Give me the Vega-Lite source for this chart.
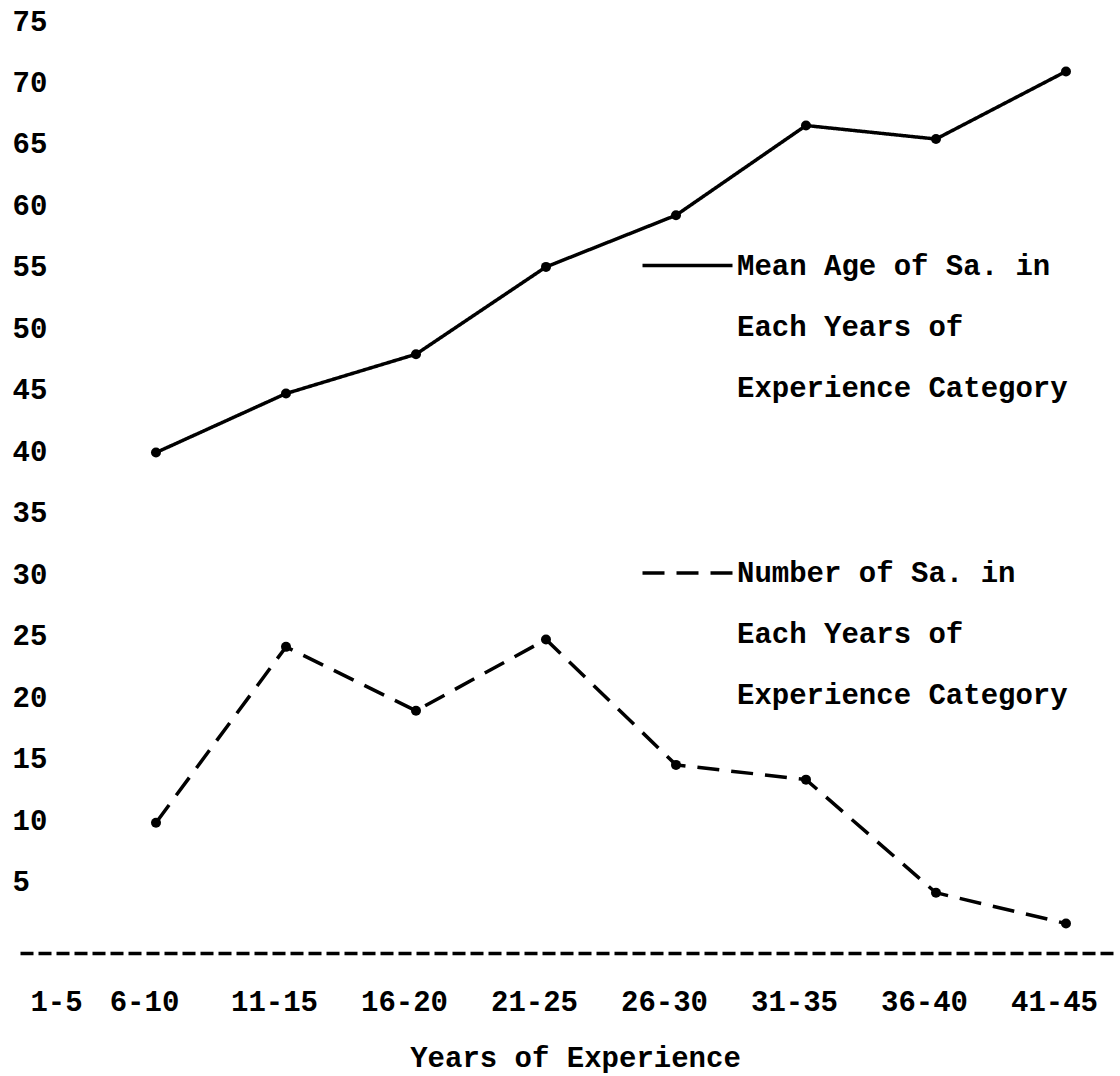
{
  "$schema": "https://vega.github.io/schema/vega-lite/v6.json",
  "width": 1098,
  "height": 932,
  "autosize": {"type": "none"},
  "padding": {"left": 20, "top": 21, "right": 2, "bottom": 123},
  "background": "white",
  "config": {"view": {"stroke": null}, "font": "Liberation Mono"},
  "data": {
    "values": [
      {"experience": "6-10", "series": "Mean Age", "value": 39.9},
      {"experience": "11-15", "series": "Mean Age", "value": 44.7},
      {"experience": "16-20", "series": "Mean Age", "value": 47.9},
      {"experience": "21-25", "series": "Mean Age", "value": 55.0},
      {"experience": "26-30", "series": "Mean Age", "value": 59.2},
      {"experience": "31-35", "series": "Mean Age", "value": 66.5},
      {"experience": "36-40", "series": "Mean Age", "value": 65.4},
      {"experience": "41-45", "series": "Mean Age", "value": 70.9},
      {"experience": "6-10", "series": "Number", "value": 9.8},
      {"experience": "11-15", "series": "Number", "value": 24.1},
      {"experience": "16-20", "series": "Number", "value": 18.9},
      {"experience": "21-25", "series": "Number", "value": 24.7},
      {"experience": "26-30", "series": "Number", "value": 14.5},
      {"experience": "31-35", "series": "Number", "value": 13.3},
      {"experience": "36-40", "series": "Number", "value": 4.1},
      {"experience": "41-45", "series": "Number", "value": 1.6}
    ]
  },
  "encoding": {
    "x": {
      "field": "experience",
      "type": "ordinal",
      "scale": {
        "type": "point",
        "domain": ["1-5", "6-10", "11-15", "16-20", "21-25", "26-30", "31-35", "36-40", "41-45"],
        "padding": 0.2231,
        "align": 0.1034
      },
      "axis": {
        "title": "Years of Experience",
        "labelAngle": 0,
        "ticks": false,
        "tickSize": 0,
        "grid": false,
        "domainColor": "black",
        "domainWidth": 3.5,
        "domainDash": [13, 5],
        "labelFont": "Liberation Mono",
        "labelFontSize": 29,
        "labelFontWeight": "bold",
        "labelColor": "black",
        "labelBaseline": "middle",
        "labelPadding": 48,
        "labelOffset": {"condition": {"test": "datum.value === '1-5'", "value": 30}, "value": -12},
        "labelOverlap": false,
        "labelFlush": false,
        "titleFont": "Liberation Mono",
        "titleFontSize": 29,
        "titleFontWeight": "bold",
        "titleColor": "black",
        "titleX": 555,
        "titleY": 104,
        "titleBaseline": "middle",
        "titleAlign": "center"
      }
    },
    "y": {
      "field": "value",
      "type": "quantitative",
      "scale": {"domain": [-0.8, 75], "nice": false, "zero": false},
      "axis": {
        "title": null,
        "values": [5, 10, 15, 20, 25, 30, 35, 40, 45, 50, 55, 60, 65, 70, 75],
        "ticks": false,
        "tickSize": 0,
        "domain": false,
        "grid": false,
        "labelAlign": "left",
        "labelBaseline": "middle",
        "labelPadding": 8,
        "labelFont": "Liberation Mono",
        "labelFontSize": 29,
        "labelFontWeight": "bold",
        "labelColor": "black"
      }
    }
  },
  "layer": [
    {
      "mark": {"type": "line", "strokeWidth": 3.5, "color": "black"},
      "encoding": {
        "strokeDash": {
          "field": "series",
          "type": "nominal",
          "scale": {"domain": ["Mean Age", "Number"], "range": [[1, 0], [22, 12]]},
          "legend": {
            "title": null,
            "orient": "none",
            "legendX": 620.5,
            "legendY": 197.5,
            "padding": 0,
            "symbolType": "stroke",
            "symbolSize": 8100,
            "symbolStrokeWidth": 3.5,
            "symbolStrokeColor": "black",
            "labelFont": "Liberation Mono",
            "labelFontSize": 29,
            "labelFontWeight": "bold",
            "labelColor": "black",
            "labelLimit": 1000,
            "labelOffset": 2.5,
            "labelBaseline": "alphabetic",
            "rowPadding": 123.5,
            "labelExpr": "datum.value === 'Mean Age' ? ['Mean Age of Sa. in', 'Each Years of', 'Experience Category'] : ['Number of Sa. in', 'Each Years of', 'Experience Category']",
            "encoding": {"labels": {"lineHeight": {"value": 61}, "dy": {"value": 9}}}
          }
        }
      }
    },
    {
      "mark": {"type": "point", "filled": true, "size": 100, "color": "black", "opacity": 1}
    }
  ]
}
